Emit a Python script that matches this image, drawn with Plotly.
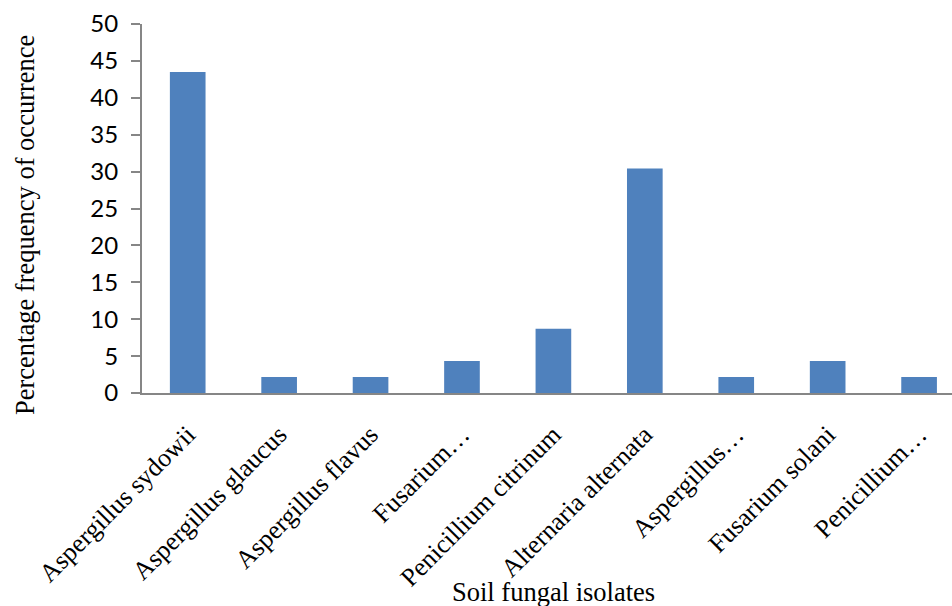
import plotly.graph_objects as go

# Soil fungal isolates and their percentage frequency of occurrence
isolates = [
    "Aspergillus sydowii",
    "Aspergillus glaucus",
    "Aspergillus flavus",
    "Fusarium…",
    "Penicillium citrinum",
    "Alternaria alternata",
    "Aspergillus…",
    "Fusarium solani",
    "Penicillium…",
]
frequency = [43.48, 2.17, 2.17, 4.35, 8.70, 30.43, 2.17, 4.35, 2.17]
y_ticks = [0, 5, 10, 15, 20, 25, 30, 35, 40, 45, 50]

W, H = 952, 606
ml, mr, mt, mb = 142, 0, 24, 213
axis_grey = "#868686"
serif = "Liberation Serif, Times New Roman, serif"

fig = go.Figure(
    go.Bar(
        x=list(range(len(isolates))),
        y=frequency,
        width=0.39,
        marker=dict(color="#4F81BD", line=dict(width=0)),
    )
)

fig.update_layout(
    width=W,
    height=H,
    margin=dict(l=ml, r=mr, t=mt, b=mb, pad=0),
    paper_bgcolor="white",
    plot_bgcolor="white",
    showlegend=False,
    xaxis=dict(
        tickmode="array",
        tickvals=list(range(len(isolates))),
        ticktext=isolates,
        tickangle=-45,
        range=[-0.5, 8.36],
        showgrid=False,
        zeroline=False,
        showline=True,
        linecolor=axis_grey,
        linewidth=2,
        ticks="",
        ticklabelstandoff=14,
        tickfont=dict(family=serif, size=26, color="black"),
    ),
    yaxis=dict(
        range=[0, 50],
        tickmode="array",
        tickvals=y_ticks,
        showgrid=False,
        zeroline=False,
        showline=True,
        linecolor=axis_grey,
        linewidth=2,
        ticks="outside",
        ticklen=9,
        tickwidth=2,
        tickcolor=axis_grey,
        ticklabelstandoff=8,
        tickfont=dict(family="Lato, Open Sans, sans-serif", size=24, color="black"),
    ),
    annotations=[
        dict(
            text="Soil fungal isolates",
            xref="paper", yref="paper",
            x=(553 - ml) / (W - ml - mr),
            y=-(592 - (H - mb)) / (H - mt - mb),
            xanchor="center", yanchor="middle",
            showarrow=False,
            font=dict(family=serif, size=26.5, color="black"),
        ),
        dict(
            text="Percentage frequency of occurrence",
            xref="paper", yref="paper",
            x=-(ml - 25) / (W - ml - mr),
            y=((H - mb) - 225) / (H - mt - mb),
            xanchor="center", yanchor="middle",
            textangle=-90,
            showarrow=False,
            font=dict(family=serif, size=26.5, color="black"),
        ),
    ],
)

fig.write_html("out.html")
